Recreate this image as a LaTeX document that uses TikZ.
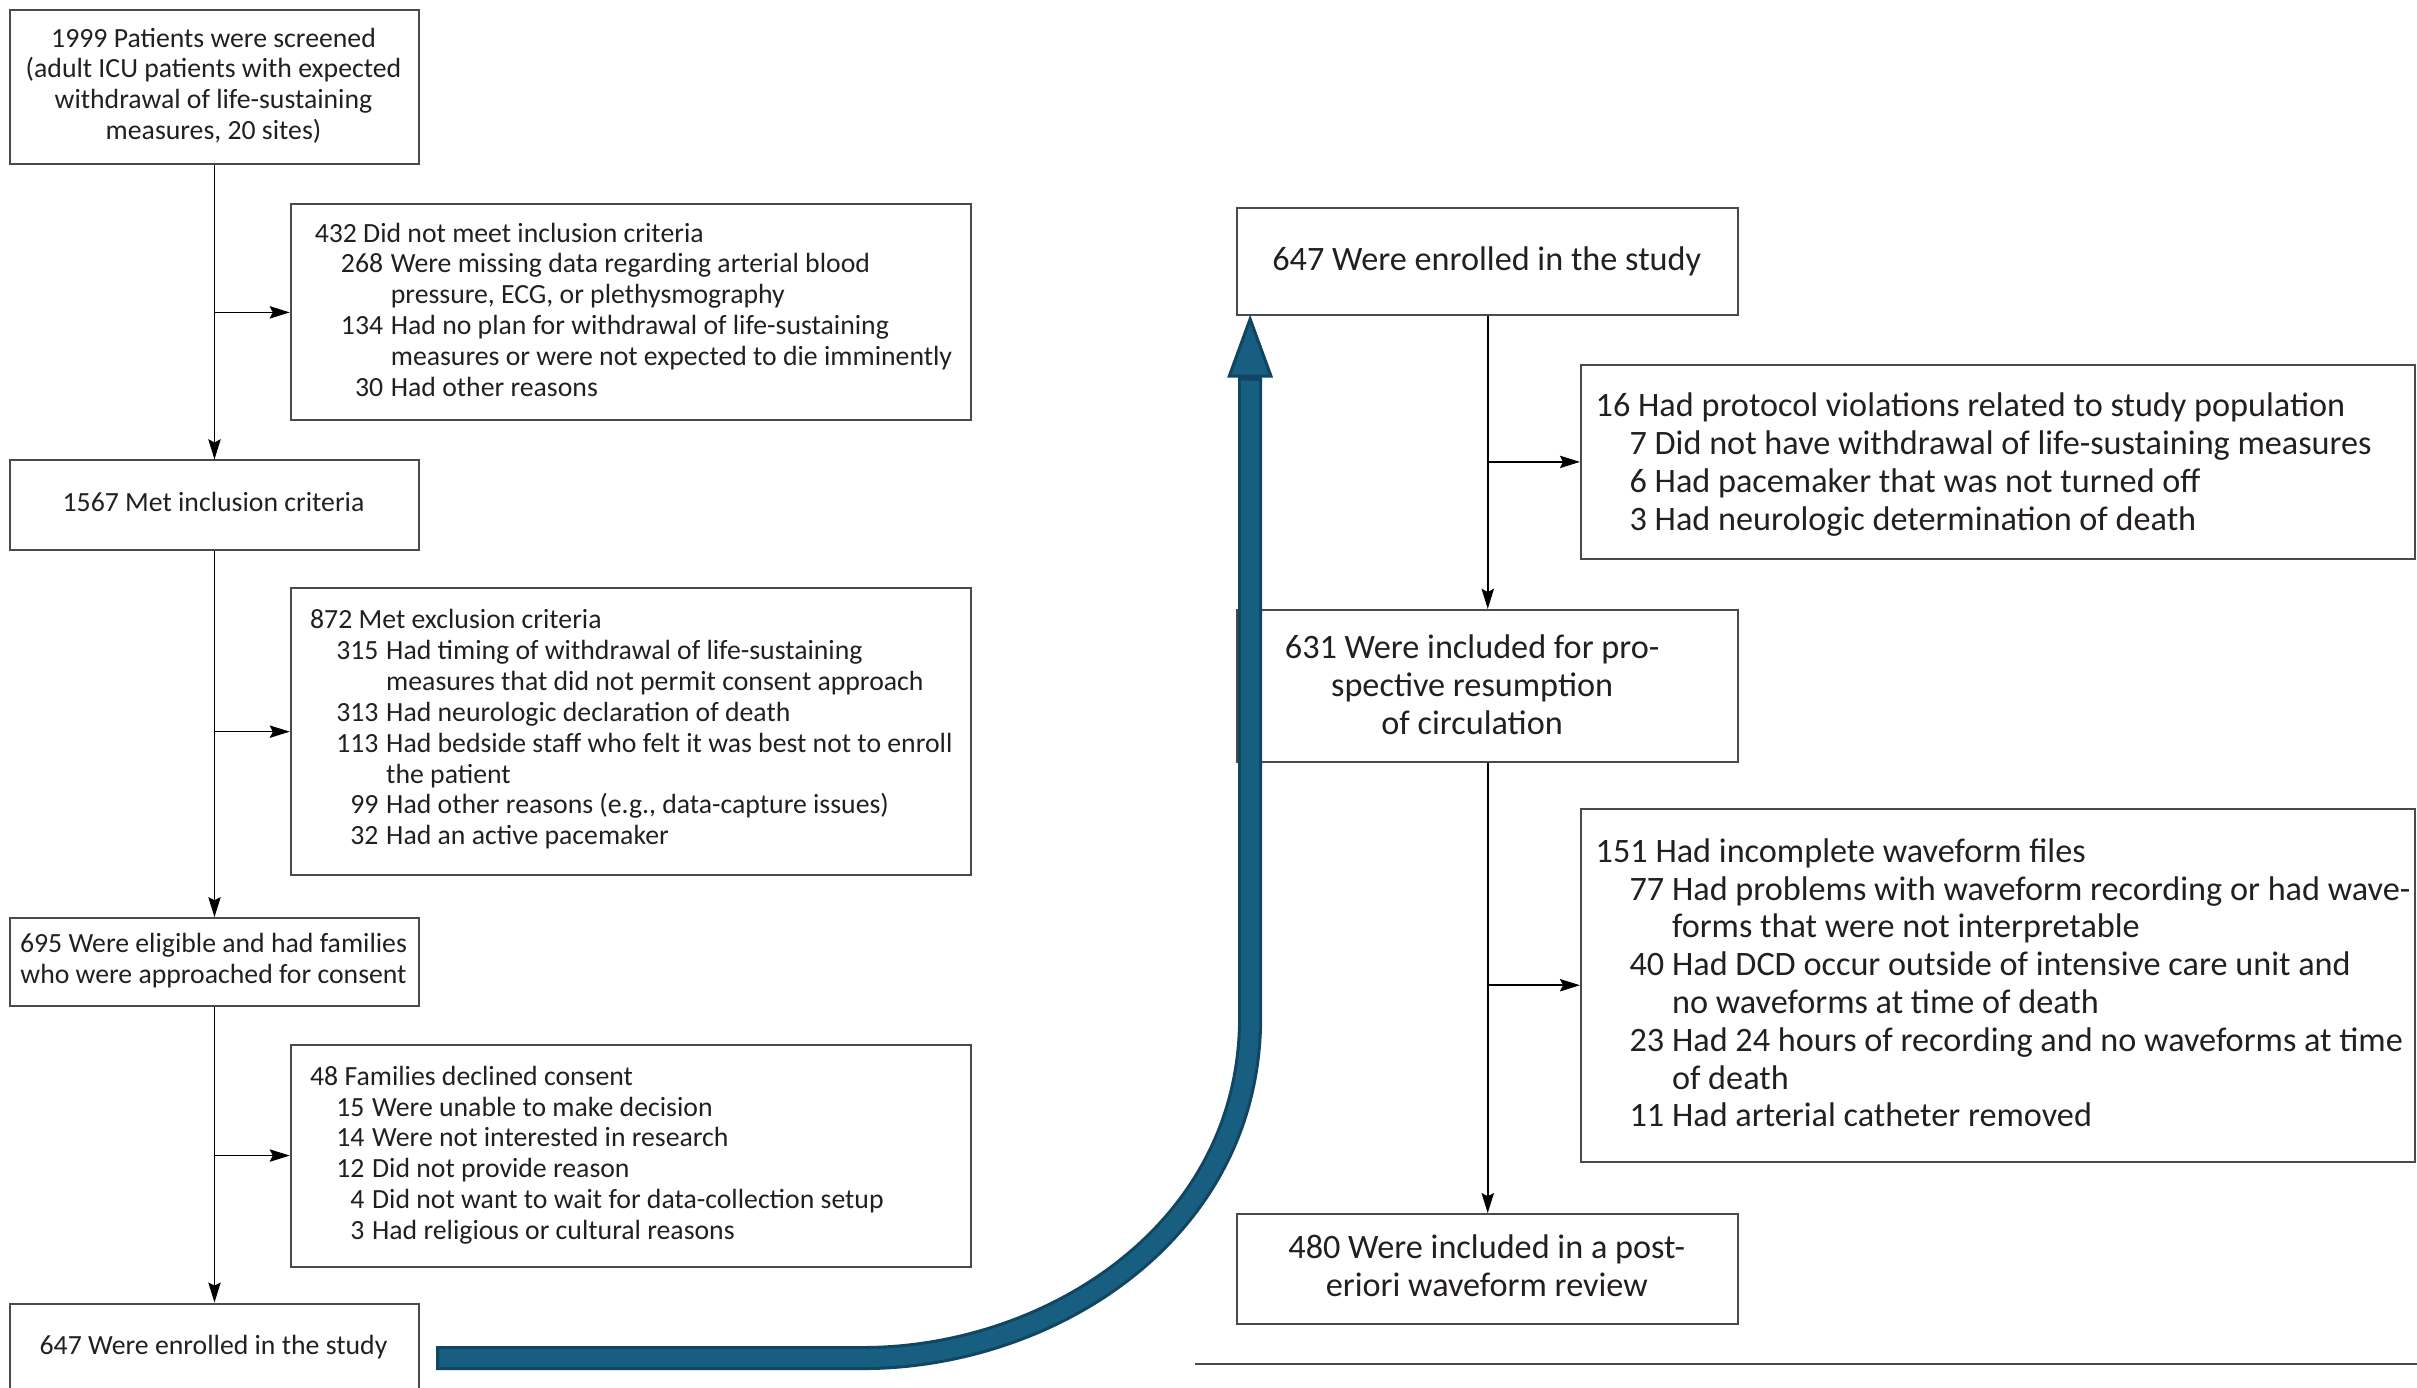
\documentclass[tikz,border=0pt]{standalone}
\usepackage{fontspec}
\setmainfont{Carlito}
\usetikzlibrary{arrows.meta}
\definecolor{boxc}{HTML}{4A4A4A}
\definecolor{txt}{HTML}{231F20}
\definecolor{arrfill}{HTML}{185E80}
\definecolor{arredge}{HTML}{104661}
\begin{document}
\begin{tikzpicture}[x=1pt,y=-1pt,
  box/.style={draw=boxc, line width=1.3pt, inner sep=0pt, anchor=north west},
  lt/.style={font=\fontsize{18}{20}\selectfont, text=txt, inner sep=0pt},
  rt/.style={font=\fontsize{22.2}{24.5}\selectfont, text=txt, inner sep=0pt},
  conn/.style={draw=black, line width=1pt, -{Stealth[length=13pt,width=8pt,inset=2pt]}},
]
\useasboundingbox (0,0) rectangle (1568,900);

% boxes
\node[box, minimum width=265pt, minimum height=100pt] (A) at (6,6) {};
\node[box, minimum width=441pt, minimum height=140pt] (B1) at (188,132) {};
\node[box, minimum width=265pt, minimum height=58pt] (C) at (6,298) {};
\node[box, minimum width=441pt, minimum height=186pt] (B2) at (188,381) {};
\node[box, minimum width=265pt, minimum height=57pt] (D) at (6,595) {};
\node[box, minimum width=441pt, minimum height=144pt] (B3) at (188,677) {};
\node[box, minimum width=265pt, minimum height=57pt] (E) at (6,845) {};
\node[box, minimum width=325pt, minimum height=70pt] (F) at (802,134) {};
\node[box, minimum width=541pt, minimum height=126pt] (G) at (1025,236) {};
\node[box, minimum width=325pt, minimum height=99pt] (H) at (802,395) {};
\node[box, minimum width=541pt, minimum height=229pt] (I) at (1025,524) {};
\node[box, minimum width=325pt, minimum height=71pt] (J) at (802,787) {};

% texts
\node[lt, anchor=base] (tA) at (138.5,30.5) {\begin{tabular}[t]{@{}c@{}}1999 Patients were screened\\(adult ICU patients with expected\\withdrawal of life-sustaining\\measures, 20 sites)\end{tabular}};
\node[lt, anchor=base west] (tB1) at (204,157) {\begin{tabular}[t]{@{\hspace{17pt}}r@{\hspace{5pt}}l@{}}
\multicolumn{2}{@{}l@{}}{432 Did not meet inclusion criteria}\\
268 & Were missing data regarding arterial blood\\
 & pressure, ECG, or plethysmography\\
134 & Had no plan for withdrawal of life-sustaining\\
 & measures or were not expected to die imminently\\
30 & Had other reasons\end{tabular}};
\node[lt, anchor=base] (tC) at (138.5,332) {1567 Met inclusion criteria};
\node[lt, anchor=base west] (tB2) at (201,408) {\begin{tabular}[t]{@{\hspace{17pt}}r@{\hspace{5pt}}l@{}}
\multicolumn{2}{@{}l@{}}{872 Met exclusion criteria}\\
315 & Had timing of withdrawal of life-sustaining\\
 & measures that did not permit consent approach\\
313 & Had neurologic declaration of death\\
113 & Had bedside staff who felt it was best not to enroll\\
 & the patient\\
99 & Had other reasons (e.g., data-capture issues)\\
32 & Had an active pacemaker\end{tabular}};
\node[lt, anchor=base] (tD) at (138.5,618) {\begin{tabular}[t]{@{}c@{}}695 Were eligible and had families\\who were approached for consent\end{tabular}};
\node[lt, anchor=base west] (tB3) at (201,704) {\begin{tabular}[t]{@{\hspace{17pt}}r@{\hspace{5pt}}l@{}}
\multicolumn{2}{@{}l@{}}{48 Families declined consent}\\
15 & Were unable to make decision\\
14 & Were not interested in research\\
12 & Did not provide reason\\
4 & Did not want to wait for data-collection setup\\
3 & Had religious or cultural reasons\end{tabular}};
\node[lt, anchor=base] (tE) at (138.5,879) {647 Were enrolled in the study};

\node[rt, anchor=base] (tF) at (964.5,175.5) {647 Were enrolled in the study};
\node[rt, anchor=base west] (tG) at (1035,270.5) {\begin{tabular}[t]{@{\hspace{22pt}}r@{\hspace{5pt}}l@{}}
\multicolumn{2}{@{}l@{}}{16 Had protocol violations related to study population}\\
7 & Did not have withdrawal of life-sustaining measures\\
6 & Had pacemaker that was not turned off\\
3 & Had neurologic determination of death\end{tabular}};
\node[rt, anchor=base] (tH) at (955,427.5) {\begin{tabular}[t]{@{}c@{}}631 Were included for pro-\\spective resumption\\of circulation\end{tabular}};
\node[rt, anchor=base west] (tI) at (1035,559.5) {\begin{tabular}[t]{@{\hspace{22pt}}r@{\hspace{5pt}}l@{}}
\multicolumn{2}{@{}l@{}}{151 Had incomplete waveform files}\\
77 & Had problems with waveform recording or had wave-\\
 & forms that were not interpretable\\
40 & Had DCD occur outside of intensive care unit and\\
 & no waveforms at time of death\\
23 & Had 24 hours of recording and no waveforms at time\\
 & of death\\
11 & Had arterial catheter removed\end{tabular}};
\node[rt, anchor=base] (tJ) at (964.5,816.5) {\begin{tabular}[t]{@{}c@{}}480 Were included in a post-\\eriori waveform review\end{tabular}};

% connectors
\draw[conn] (A.south) -- (C.north);
\draw[conn] (A.south |- B1.west) -- (B1.west);
\draw[conn] (C.south) -- (D.north);
\draw[conn] (C.south |- B2.west) -- (B2.west);
\draw[conn] (D.south) -- (E.north);
\draw[conn] (D.south |- B3.west) -- (B3.west);
\draw[conn] (F.south) -- (H.north);
\draw[conn] (F.south |- G.west) -- (G.west);
\draw[conn] (H.south) -- (J.north);
\draw[conn] (H.south |- I.west) -- (I.west);

% thick return arrow
\coordinate (s) at (283,881);
\coordinate (hb) at (811,244);
\coordinate (tip) at (811,207);
\draw[arredge, line width=15.6pt] (s) -- (560,881) .. controls (680,881) and (811,800) .. (811,660) -- (hb);
\filldraw[fill=arrfill, draw=arredge, line width=2pt, line join=miter] (797.5,244) -- (tip) -- (824.5,244) -- cycle;
\draw[arrfill, line width=11.6pt, shorten <=2pt] (s) -- (560,881) .. controls (680,881) and (811,800) .. (811,660) -- (811,247);

% bottom rule
\draw[boxc, line width=1.3pt] (775,885) -- (1568,885);
\end{tikzpicture}
\end{document}
